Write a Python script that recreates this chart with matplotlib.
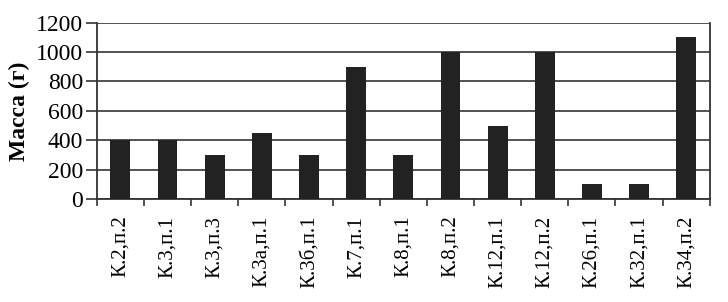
import matplotlib
matplotlib.use("Agg")
from matplotlib import pyplot as plt
from matplotlib import ticker
import numpy as np

# data
labels = ["К.2,п.2", "К.3,п.1", "К.3,п.3", "К.3а,п.1", "К.3б,п.1", "К.7,п.1",
          "К.8,п.1", "К.8,п.2", "К.12,п.1", "К.12,п.2", "К.26,п.1", "К.32,п.1",
          "К.34,п.2"]
mass = [400, 400, 300, 450, 300, 900, 300, 1000, 500, 1000, 100, 100, 1100]

plt.rcParams['font.family'] = ['Liberation Serif', 'DejaVu Serif']

fig = plt.figure(figsize=(7.28, 3.02), dpi=100)
ax = fig.add_axes([0.133, 0.341, 0.842, 0.584])

x = np.arange(len(labels))
ax.bar(x, mass, width=0.42, color="#222222", zorder=3)

ax.set_xlim(-0.5, len(labels) - 0.5)
ax.set_ylim(0, 1200)
ax.set_yticks(np.arange(0, 1201, 200))
ax.yaxis.grid(True, color="#444444", linewidth=1.3, zorder=0)
ax.tick_params(axis='y', length=8, width=1.3, color="#444444", labelsize=17, pad=2)

ax.set_xticks(x)
ax.set_xticklabels(labels, rotation=90, fontsize=15)
ax.tick_params(axis='x', which='major', length=0, pad=12)
ax.xaxis.set_minor_locator(ticker.FixedLocator(np.arange(-0.5, len(labels), 1.0)))
ax.tick_params(axis='x', which='minor', length=5, width=1.3, color="#444444")

for side in ['left', 'bottom', 'right']:
    ax.spines[side].set_color("#333333")
    ax.spines[side].set_linewidth(1.3)
ax.spines['top'].set_visible(False)

ax.set_ylabel("Масса (г)", fontsize=17, fontweight='bold', labelpad=4)

fig.savefig("out.png", dpi=100)
